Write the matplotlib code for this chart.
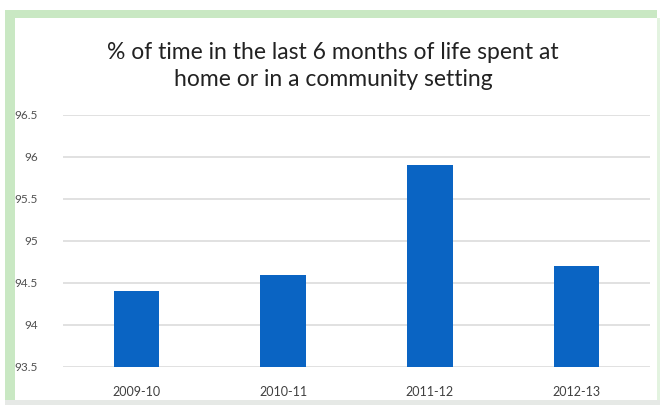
import matplotlib
matplotlib.use("Agg")
import matplotlib.pyplot as plt
from matplotlib.patches import Rectangle

periods = ["2009-10", "2010-11", "2011-12", "2012-13"]
pct_time_home = [94.4, 94.6, 95.9, 94.7]
y_ticks = [93.5, 94, 94.5, 95, 95.5, 96, 96.5]
y_tick_labels = ["93.5", "94", "94.5", "95", "95.5", "96", "96.5"]

plt.rcParams['font.family'] = ['Lato', 'DejaVu Sans']

W, H = 667, 408
fig = plt.figure(figsize=(W / 100, H / 100), dpi=100)
fig.patch.set_facecolor("white")

# light green frame around the chart area
green = "#c9e8c3"
fig.add_artist(Rectangle((5 / W, 1 - 18 / H), 652 / W, 8 / H,
                         transform=fig.transFigure, color=green, lw=0))
fig.add_artist(Rectangle((5 / W, 8 / H), 10 / W, 1 - 26 / H,
                         transform=fig.transFigure, color=green, lw=0))
fig.add_artist(Rectangle((657 / W, 8 / H), 3 / W, 1 - 26 / H,
                         transform=fig.transFigure, color="#e3f3e0", lw=0))
fig.add_artist(Rectangle((5 / W, 3 / H), 655 / W, 5 / H,
                         transform=fig.transFigure, color="#e6e9e6", lw=0))

ax = fig.add_axes([63 / W, 41 / H, 587 / W, 252 / H])
x = range(len(periods))
ax.bar(x, pct_time_home, width=0.31, color="#0a64c3", zorder=3)

ax.set_ylim(93.5, 96.5)
ax.set_xlim(-0.5, len(periods) - 0.5)
ax.set_yticks(y_ticks)
ax.set_yticklabels(y_tick_labels)
ax.set_xticks(list(x))
ax.set_xticklabels(periods)
ax.grid(axis="y", color="#dcdcdc", lw=1.2, zorder=0)
ax.tick_params(axis="y", length=0, pad=18, labelsize=8.5, labelcolor="#505050")
ax.tick_params(axis="x", length=0, pad=14, labelsize=9, labelcolor="#404040")
for s in ax.spines.values():
    s.set_visible(False)
ax.set_facecolor("none")

fig.text(333 / W, 1 - 66 / H,
         "% of time in the last 6 months of life spent at\nhome or in a community setting",
         ha="center", va="center", fontsize=16.5, color="#222222", linespacing=1.35)

fig.savefig("out.png", dpi=100, facecolor="white")
